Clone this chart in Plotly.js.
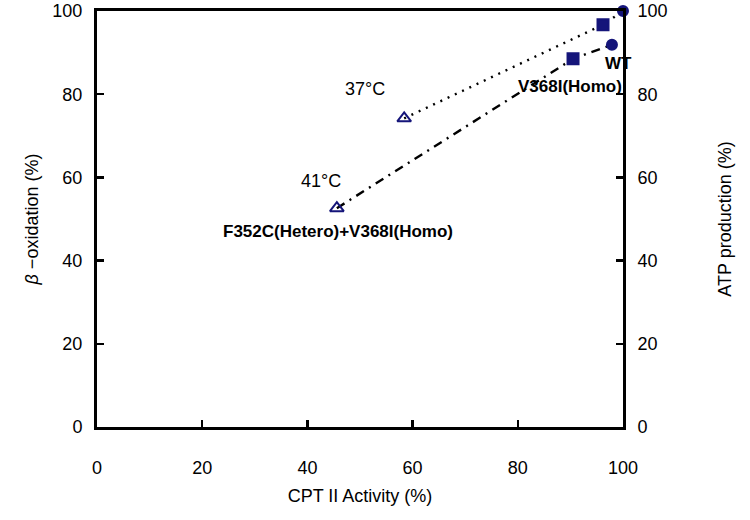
<!DOCTYPE html>
<html>
<head>
<meta charset="utf-8">
<script src="https://cdn.plot.ly/plotly-3.0.1.min.js"></script>
<style>
  html, body { margin: 0; padding: 0; background: #fff; }
  #chart { width: 750px; height: 520px; }
</style>
</head>
<body>
<div id="chart"></div>
<script>
'use strict';

// CPT II activity (%) vs beta-oxidation (%)
const activity37 = [58.4, 96.2, 100];
const oxidation37 = [74.2, 96.7, 100];
const activity41 = [45.6, 90.5, 97.9];
const oxidation41 = [52.6, 88.5, 91.9];

const tickVals = [0, 20, 40, 60, 80, 100];

const labelTexts = ['37°C', '41°C', 'F352C(Hetero)+V368I(Homo)', 'V368I(Homo)', 'WT'];
const labelX = [51, 42.6, 45.8, 89.9, 99.2];
const labelY = [81.3, 59.1, 47.1, 81.8, 87.3];
const labelBold = [false, false, true, true, true];

const navy = '#15157a';
const symbols = ['triangle-up-open', 'square', 'circle'];
const sizes = [12, 11, 10];

const markerStyle = {
  color: navy, symbol: symbols, size: sizes, opacity: 1,
  line: { color: navy, width: 2 }
};

const traces = [
  {
    x: activity37, y: oxidation37,
    mode: 'lines+markers', opacity: 1,
    line: { color: '#000', width: 2.4, dash: '2px,6px' },
    marker: markerStyle,
    cliponaxis: false
  },
  {
    x: activity41, y: oxidation41,
    mode: 'lines+markers', opacity: 1,
    line: { color: '#000', width: 2.4, dash: '9px,6px,2px,6px' },
    marker: markerStyle,
    cliponaxis: false
  },
  { x: [], y: [], yaxis: 'y2', mode: 'markers', hoverinfo: 'skip' }
];

const axisFont = { family: 'Liberation Sans, Arial, sans-serif', size: 18, color: '#000' };

const annotations = labelTexts.map((t, i) => ({
  x: labelX[i], y: labelY[i], xref: 'x', yref: 'y',
  text: labelBold[i] ? '<b>' + t + '</b>' : t,
  showarrow: false,
  font: {
    family: 'Liberation Sans, Arial, sans-serif',
    size: labelBold[i] ? 17 : 18, color: '#000'
  }
}));

const yRange = [-0.001, 100.001];

const layout = {
  width: 750, height: 520,
  paper_bgcolor: '#fff', plot_bgcolor: '#fff',
  showlegend: false,
  margin: { l: 97, r: 127, t: 11, b: 93 },
  font: axisFont,
  xaxis: {
    range: [-0.001, 100.001], tickvals: tickVals, showgrid: false, zeroline: false,
    showline: true, linecolor: '#000', linewidth: 3, mirror: true,
    ticks: 'inside', ticklen: 7, tickwidth: 2.5, tickcolor: '#000',
    tickfont: axisFont, ticklabelstandoff: 22, ticklabeloverflow: 'allow',
    title: { text: 'CPT II Activity (%)', font: axisFont, standoff: 13 }
  },
  yaxis: {
    range: yRange, tickvals: tickVals, showgrid: false, zeroline: false,
    showline: true, linecolor: '#000', linewidth: 3,
    ticks: 'inside', ticklen: 7, tickwidth: 2.5, tickcolor: '#000',
    tickfont: axisFont, ticklabelstandoff: 8, ticklabeloverflow: 'allow',
    title: { text: '<i>β</i> −oxidation (%)', font: axisFont, standoff: 10 }
  },
  yaxis2: {
    range: yRange, tickvals: tickVals, overlaying: 'y', side: 'right',
    showgrid: false, zeroline: false,
    showline: true, linecolor: '#000', linewidth: 3,
    ticks: 'inside', ticklen: 7, tickwidth: 2.5, tickcolor: '#000',
    tickfont: axisFont, ticklabelstandoff: 8, ticklabeloverflow: 'allow',
    title: { text: 'ATP production (%)', font: axisFont, standoff: 52 }
  },
  annotations: annotations
};

Plotly.newPlot('chart', traces, layout, { displayModeBar: false, staticPlot: true });
</script>
</body>
</html>
